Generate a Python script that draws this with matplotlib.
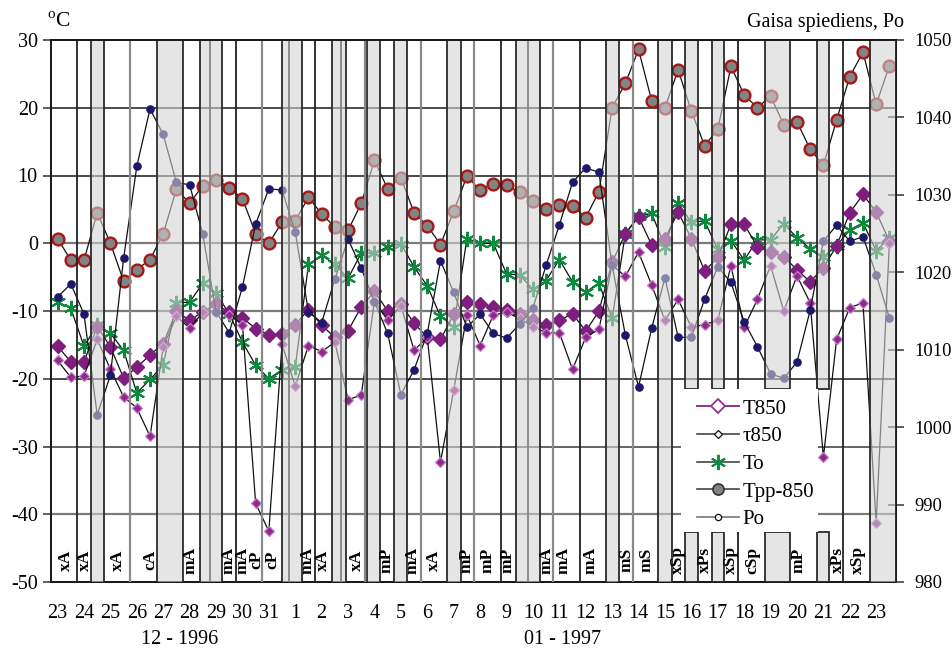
import matplotlib
matplotlib.use('Agg')
import matplotlib.pyplot as plt
from matplotlib.lines import Line2D
from matplotlib.patches import Rectangle
import numpy as np

plt.rcParams['font.family'] = ['Liberation Serif', 'DejaVu Serif']
plt.rcParams['mathtext.fontset'] = 'custom'
plt.rcParams['mathtext.rm'] = 'Liberation Serif'

# ---------------- data ----------------
days = [23, 24, 25, 26, 27, 28, 29, 30, 31] + list(range(1, 24))
obs = np.arange(64)  # two observations per day

T850 = [-15.2, -17.5, -17.5, -12.3, -15.3, -19.9, -18.3, -16.5, -14.8, -10.0,
        -11.4, -10.1, -9.0, -10.2, -11.0, -12.6, -13.5, -13.4, -12.0, -9.8,
        -12.1, -13.9, -12.9, -9.4, -7.1, -10.0, -9.0, -11.8, -13.9, -14.2,
        -10.5, -8.6, -9.0, -9.4, -9.8, -10.4, -11.4, -12.0, -11.4, -10.4,
        -13.0, -10.0, -2.8, 1.4, 3.9, -0.3, 0.7, 4.6, 0.7, -4.1,
        -2.1, 2.8, 2.8, -0.5, -1.3, -2.0, -3.9, -5.7, -3.6, -0.4,
        4.5, 7.2, 4.6, 0.3]

tau850 = [-17.3, -19.8, -19.6, -14.2, -18.6, -22.7, -24.3, -28.5, -15.3, -10.8,
          -12.5, -10.2, -10.2, -10.6, -12.0, -38.4, -42.5, -14.9, -21.1, -15.1,
          -16.0, -14.6, -23.1, -22.4, -8.5, -11.4, -9.2, -15.8, -13.9, -32.3,
          -21.7, -10.6, -15.1, -10.6, -10.2, -11.1, -12.3, -13.2, -13.2, -18.6,
          -13.9, -12.7, -3.2, -4.9, -1.3, -6.2, -11.4, -8.3, -12.4, -12.0,
          -11.4, -3.3, -12.4, -8.3, -3.3, -10.0, -4.8, -8.8, -31.6, -14.2,
          -9.5, -8.8, -41.3, 0.1]

To = [-8.7, -9.6, -15.2, -12.1, -13.3, -15.8, -22.1, -20.1, -18.0, -8.8,
      -8.7, -5.9, -7.4, -10.4, -14.6, -18.0, -20.0, -18.7, -18.3, -3.1,
      -1.8, -3.1, -5.2, -1.4, -1.5, -0.5, -0.05, -3.5, -6.3, -10.8,
      -12.3, 0.7, 0.0, 0.0, -4.5, -4.7, -6.8, -5.5, -2.4, -5.7,
      -7.2, -5.9, -11.1, 1.4, 4.0, 4.4, -0.5, 5.9, 3.1, 3.3,
      -0.9, 0.4, -2.5, 0.5, 0.5, 2.9, 0.8, -0.8, -2.0, -0.4,
      2.0, 3.0, -1.1, 0.8]

Tpp850 = [0.7, -2.5, -2.5, 4.5, 0.0, -5.6, -3.9, -2.4, 1.4, 8.0,
          5.9, 8.5, 9.4, 8.2, 6.6, 1.4, 0.0, 3.1, 3.3, 6.8,
          4.3, 2.4, 1.9, 5.9, 12.25, 8.0, 9.7, 4.5, 2.6, -0.2,
          4.7, 9.9, 7.8, 8.8, 8.6, 7.5, 6.2, 5.0, 5.7, 5.5,
          3.8, 7.6, 20.0, 23.6, 28.6, 21.0, 20.0, 25.6, 19.5, 14.4,
          16.8, 26.1, 21.9, 20.0, 21.7, 17.5, 17.9, 13.9, 11.5, 18.2,
          24.6, 28.2, 20.5, 26.2]

Po = [1016.8, 1018.5, 1014.6, 1001.6, 1006.7, 1021.8, 1033.7, 1041.1, 1037.8, 1031.6,
      1031.3, 1024.9, 1014.9, 1012.2, 1018.1, 1026.2, 1030.8, 1030.6, 1025.2, 1014.9,
      1013.5, 1019.1, 1024.3, 1020.5, 1016.2, 1012.1, 1004.2, 1007.4, 1012.1, 1021.5,
      1017.4, 1012.9, 1014.6, 1012.1, 1011.5, 1013.3, 1015.4, 1020.9, 1026.1, 1031.6,
      1033.5, 1032.9, 1020.9, 1011.9, 1005.2, 1012.8, 1019.3, 1011.6, 1011.6, 1016.5,
      1020.7, 1018.7, 1013.6, 1010.4, 1006.9, 1006.3, 1008.4, 1015.1, 1024.0, 1026.1,
      1024.0, 1024.6, 1019.7, 1014.1]

# air-mass periods (in observation-index units)
band_start = [2.5, 7.5, 10.75, 17.0, 20.75, 23.4, 25.45, 29.5, 34.7, 41.55, 45.5, 61.5]
band_end   = [3.5, 9.5, 12.45, 18.5, 21.85, 24.4, 26.5, 30.55, 36.55, 42.55, 46.55, 63.5]
split_start = [47.55, 49.55, 53.55, 57.55]
split_end   = [48.5, 50.5, 55.5, 58.45]
dark_lines = [1.5, 13.5, 19.5, 33.55, 39.55, 59.5]
gray_lines = [5.5, 15.5, 23.3, 27.5, 31.55, 37.55, 43.55]
inner_lines = [11.55, 17.5, 21.5, 35.6]
split_lines = [51.55]

mass_pos = [0.6, 2.1, 4.6, 7.0, 10.1, 12.95, 14.0, 15.05, 16.3, 18.9, 20.1, 22.65,
            24.9, 26.9, 28.5, 31.0, 32.6, 34.1, 37.0, 38.3, 40.4, 43.1, 44.6,
            47.0, 49.0, 51.0, 52.6, 56.1, 59.1, 60.6]
mass_lbl = ['xA', 'xA', 'xA', 'cA', 'mA', 'mA', 'mA', 'cP', 'cP', 'mA', 'xA', 'xA',
            'mP', 'mA', 'xA', 'mP', 'mP', 'mP', 'mA', 'mA', 'mA', 'mS', 'mS',
            'xSp', 'xPs', 'xSp', 'cSp', 'mP', 'xPs', 'xSp']

# ---------------- figure ----------------
W, H = 953, 651
FS = 14.5
fig = plt.figure(figsize=(W / 100, H / 100), dpi=100)
L, R, T, B = 51, 896, 40, 582
ax = fig.add_axes([L / W, 1 - B / H, (R - L) / W, (B - T) / H])
ax.set_xlim(-0.5, 63.5)
ax.set_ylim(-50, 30)
ax2 = ax.twinx()
ax2.set_ylim(980, 1050)
ax2.set_xlim(-0.5, 63.5)

# grid lines
for v in [20, 10, -20]:
    ax.axhline(v, color='#1a1a1a', lw=1.1, zorder=1)
ax.axhline(-30, color='#3a3a3a', lw=1.1, zorder=1)
for v in [0, -10, -40]:
    ax.axhline(v, color='#7a7a7a', lw=1.6, zorder=1)

# series
ax.plot(obs, Tpp850, color='#111111', lw=0.9, marker='o', ms=8.5,
        mfc='#838383', mec='#A51818', mew=1.7, zorder=3)
ax.plot(obs, To, color='#111111', lw=0.9, marker=(6, 2, 0), ms=11,
        mec='#0B8A3E', mew=1.5, zorder=3)
ax.plot(obs, T850, color='#111111', lw=0.9, marker='D', ms=7.5,
        mfc='#7E1E7E', mec='#7E1E7E', mew=1, zorder=4)
ax.plot(obs, tau850, color='#111111', lw=0.9, marker='D', ms=4.8,
        mfc='#8E2A8E', mec='#C97EC9', mew=0.9, zorder=4)
ax2.plot(obs, Po, color='#111111', lw=0.9, marker='o', ms=5.2,
         mfc='#1D186B', mec='#1D186B', zorder=2)

# inner lines (seen through the bands)
for xv in inner_lines:
    ax2.axvline(xv, color='#1a1a1a', lw=1.3, zorder=4)

# shaded bands (semi-transparent overlay)
BAND_FC = '#D3D3D3'
for a, b in zip(band_start, band_end):
    ax2.axvspan(a, b, facecolor=BAND_FC, alpha=0.58, edgecolor='none', zorder=5)
    for xv in (a, b):
        ax2.axvline(xv, color='#2a2a2a', lw=1.3, zorder=6)

ytop = (B - 389) / (B - T)
ybot = (B - 532) / (B - T)
for a, b in zip(split_start, split_end):
    for y0, y1 in [(ytop, 1.0), (0.0, ybot)]:
        ax2.add_patch(Rectangle((a, y0), b - a, y1 - y0,
                                transform=ax2.get_xaxis_transform(),
                                facecolor=BAND_FC, alpha=0.58, edgecolor='none', zorder=5))
        ax2.add_patch(Rectangle((a, y0), b - a, y1 - y0,
                                transform=ax2.get_xaxis_transform(),
                                facecolor='none', edgecolor='#2a2a2a', lw=1.3, zorder=6))

for xv in dark_lines:
    ax2.axvline(xv, color='#222222', lw=1.3, zorder=6)
for xv in gray_lines:
    ax2.axvline(xv, color='#8a8a8a', lw=1.6, zorder=6)
for xv in split_lines:
    ax2.axvline(xv, ymin=ytop, ymax=1, color='#222222', lw=1.3, zorder=6)
    ax2.axvline(xv, ymin=0, ymax=ybot, color='#222222', lw=1.3, zorder=6)

# white legend area
lx0 = (681 - L) / (R - L)
lx1 = (818 - L) / (R - L)
ax2.add_patch(Rectangle((lx0, ybot), lx1 - lx0, ytop - ybot, transform=ax2.transAxes,
                        facecolor='white', edgecolor='none', zorder=7))

# air-mass labels
for p, s in zip(mass_pos, mass_lbl):
    ax2.text(p, (B - 560) / (B - T), s, transform=ax2.get_xaxis_transform(),
             rotation=90, ha='center', va='center', fontsize=12.5,
             fontweight='bold', zorder=9, linespacing=1.0)

# legend
handles = [
    Line2D([], [], color='#9B2D9B', lw=1.4, marker='D', ms=7, mfc='white', mec='#9B2D9B', mew=1.3),
    Line2D([], [], color='#444444', lw=1.2, marker='D', ms=4.5, mfc='white', mec='#111111', mew=0.9),
    Line2D([], [], color='#444444', lw=1.2, marker=(6, 2, 0), ms=11, mec='#0B8A3E', mew=1.4),
    Line2D([], [], color='#444444', lw=1.2, marker='o', ms=8, mfc='#838383', mec='#333333', mew=1.2),
    Line2D([], [], color='#777777', lw=1.2, marker='o', ms=4.5, mfc='white', mec='#111111', mew=0.9),
]
labels = ['T850', '\u03c4850', 'To', 'Tpp-850', 'Po']
leg = ax2.legend(handles, labels, loc='upper left',
                 bbox_to_anchor=((697 - L) / (R - L), (B - 399) / (B - T)),
                 frameon=False, fontsize=15, handlelength=2.0, handletextpad=0.2,
                 labelspacing=0.39, borderpad=0, borderaxespad=0)
leg.set_zorder(10)

# axes styling
for a in (ax, ax2):
    for s in a.spines.values():
        s.set_color('#1a1a1a')
        s.set_linewidth(1.4)
    a.spines['top'].set_zorder(11)

ax.set_xticks(obs[::2])
ax.set_xticklabels([str(d) for d in days])
ax.tick_params(axis='x', length=0, pad=16, labelsize=FS)
ax.set_yticks(range(-50, 31, 10))
ax.set_yticklabels([str(v) for v in range(-50, 31, 10)])
ax.tick_params(axis='y', direction='out', length=6, width=1.1, pad=3.5, labelsize=FS,
               color='#333333')
ax2.set_yticks(range(980, 1051, 10))
ax2.set_yticklabels([str(v) for v in range(980, 1051, 10)])
ax2.tick_params(axis='y', direction='inout', length=12, width=1.1, pad=7.5, labelsize=13.3,
                color='#333333')

fig.text(47 / W, 1 - 22 / H, r'$^{\mathrm{o}}$C', ha='left', va='center', fontsize=FS + 1)
fig.text(904 / W, 1 - 22 / H, 'Gaisa spiediens, Po', ha='right', va='center', fontsize=FS)
fig.text(180 / W, 1 - 640 / H, '12 - 1996', ha='center', va='center', fontsize=FS)
fig.text(563 / W, 1 - 640 / H, '01 - 1997', ha='center', va='center', fontsize=FS)

fig.savefig('out.png', dpi=100)
